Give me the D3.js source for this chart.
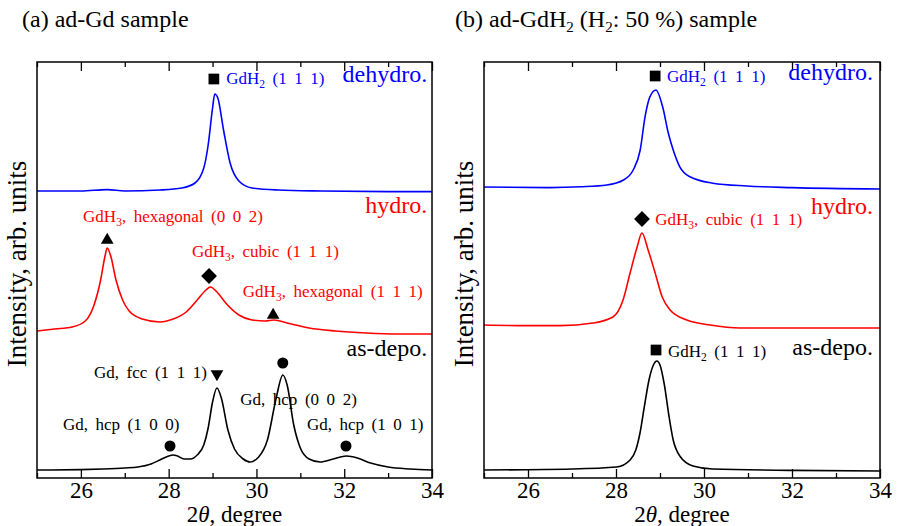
<!DOCTYPE html>
<html>
<head>
<meta charset="utf-8">
<script src="https://cdn.jsdelivr.net/npm/d3@7"></script>
<style>
  body { margin: 0; background: #fff; }
  svg { display: block; }
</style>
</head>
<body>
<svg id="chart" width="897" height="526"></svg>
<script>
// ---- data: [2theta (deg), intensity (arb. units, stacked)] ----
const majorTicks = [26, 28, 30, 32, 34]
const minorTicks = [25, 27, 29, 31, 33]

// (a) ad-Gd sample
const aDehydro = [[25.0,71.75],[26.0,71.75],[26.6,72.1],[27.0,71.75],[27.8,72],[28.3,72.5],[28.6,73.75],
  [28.8,77.5],[28.9,83.25],[29.0,92.5],[29.05,96],[29.12,95],[29.25,87],[29.4,78.75],[29.6,74.25],
  [29.9,72.5],[30.5,72],[31.5,71.75],[33.0,71.6],[34.0,71.6]]
const aHydro = [[25.0,36.75],[25.4,37.25],[25.8,37.75],[26.1,39.25],[26.3,43.25],[26.45,49.5],[26.55,55.5],
  [26.6,57.5],[26.68,55.5],[26.8,49.5],[26.95,44.5],[27.1,41.75],[27.4,39.75],[27.8,39],[28.1,39.75],
  [28.4,41.5],[28.65,44.5],[28.85,47],[28.95,47.75],[29.1,46.5],[29.3,43.75],[29.6,40.75],[29.9,39.5],
  [30.2,39.25],[30.4,39.5],[30.7,38.75],[31.2,37.5],[31.8,36.75],[32.5,36.25],[33.2,36],[34.0,36]]
const aAsDepo = [[25.0,2],[26.0,2.1],[26.5,2.25],[27.0,2.5],[27.3,2.75],[27.6,3.5],[27.8,4.5],[28.0,5.5],
  [28.1,5.75],[28.2,5.5],[28.35,4.75],[28.5,4.75],[28.65,5.75],[28.8,8.25],[28.9,12.5],[29.0,19],
  [29.1,22.5],[29.2,20],[29.35,12],[29.5,7.25],[29.7,4.75],[29.85,4],[30.05,5.25],[30.25,9.5],
  [30.45,20],[30.6,25.75],[30.7,23.25],[30.85,13.25],[31.0,7.5],[31.2,4.75],[31.45,4],[31.75,4.75],
  [32.05,5.5],[32.3,5],[32.6,3.75],[33.0,2.75],[33.5,2.25],[34.0,2]]

// (b) ad-GdH2 (H2: 50 %) sample
const bDehydro = [[25.0,72.75],[26.5,72.6],[27.2,72.8],[27.79,73.25],[28.17,74.5],[28.39,77],[28.55,82],
  [28.66,90.3],[28.77,95.3],[28.91,97],[29.06,92.8],[29.19,86.2],[29.3,82],[29.45,77.8],[29.68,75.3],
  [30.2,73.7],[30.97,73],[32.0,72.6],[34.0,72.25]]
const bHydro = [[25.0,38.25],[26.0,38.1],[26.73,38.1],[27.48,38.75],[27.93,40.25],[28.16,44.5],[28.32,51.25],
  [28.48,57.75],[28.59,61.25],[28.73,57],[28.89,51.25],[29.05,45.25],[29.23,42],[29.61,39.5],
  [30.14,38.25],[30.82,37.5],[32.0,37.5],[34.0,37.5]]
const bAsDepo = [[25.0,2],[27.0,2.25],[28.02,2.75],[28.32,4.5],[28.45,7],[28.55,11.5],[28.65,18.25],
  [28.75,24.5],[28.85,28.25],[28.93,29.25],[29.0,28.25],[29.1,23.25],[29.2,15.75],[29.3,9.5],[29.45,5.5],
  [29.75,3],[30.2,2.25],[32.0,1.9],[34.0,1.75]]

// peak markers: [2theta, intensity, shape]
const aMarkers = [[29.03,99.75,"square"],[26.6,59.5,"tri"],[28.92,50.5,"diamond"],[30.38,40.75,"tri"],
  [29.1,26,"triDown"],[30.6,28.75,"circle"],[28.03,8,"circle"],[32.04,8,"circle"]]
const bMarkers = [[28.89,100.5,"square"],[28.59,64.75,"diamond"],[28.91,32,"square"]]

const titles = ["(a) ad-Gd sample", "(b) ad-GdH_2 (H_2: 50 %) sample"]
const tagNames = ["dehydro.", "hydro.", "as-depo."]
const aPeakNames = ["GdH_2 (1 1 1)", "GdH_3, hexagonal (0 0 2)", "GdH_3, cubic (1 1 1)", "GdH_3, hexagonal (1 1 1)",
  "Gd, fcc (1 1 1)", "Gd, hcp (0 0 2)", "Gd, hcp (1 0 0)", "Gd, hcp (1 0 1)"]
const bPeakNames = ["GdH_2 (1 1 1)", "GdH_3, cubic (1 1 1)", "GdH_2 (1 1 1)"]

// ---- layout ----
const FONT = "Liberation Serif"
const BLUE = "#0000ff", RED = "#ff0000", BLACK = "#000"
const plotTop = 62, plotBottom = 478
const colors = [BLUE, RED, BLACK]

const panels = [
  { left: 37, right: 432, title: titles[0], titleX: 22,
    series: [aDehydro, aHydro, aAsDepo], markers: aMarkers,
    tagPos: [[33.89, 99], [33.89, 66.25], [33.89, 30.5]],
    peakLabels: [
      [aPeakNames[0], 29.31, 98.5, BLUE], [aPeakNames[1], 26.05, 64, RED], [aPeakNames[2], 28.53, 55.25, RED],
      [aPeakNames[3], 29.69, 45.25, RED], [aPeakNames[4], 26.3, 25, BLACK], [aPeakNames[5], 29.63, 18.25, BLACK],
      [aPeakNames[6], 25.59, 12, BLACK], [aPeakNames[7], 31.15, 12, BLACK]] },
  { left: 484, right: 880, title: titles[1], titleX: 455,
    series: [bDehydro, bHydro, bAsDepo], markers: bMarkers,
    tagPos: [[33.84, 99.5], [33.84, 66], [33.84, 30.75]],
    peakLabels: [
      [bPeakNames[0], 29.16, 99, BLUE], [bPeakNames[1], 28.89, 63.25, RED], [bPeakNames[2], 29.18, 30.25, BLACK]] }
]

const svg = d3.select("#chart")

// text with "_d" meaning subscript digit
function richText(sel, str, subSize) {
  const parts = str.split(/_(\d)/)
  let down = false
  parts.forEach((p, i) => {
    if (i % 2 === 1) {
      sel.append("tspan").attr("font-size", subSize).attr("dy", subSize * 0.35).text(p)
      down = true
    } else if (p) {
      const t = sel.append("tspan").text(p)
      if (down) { t.attr("dy", -subSize * 0.35); down = false }
    }
  })
  return sel
}

const symbolFor = {
  square: d3.symbol(d3.symbolSquare, 115),
  circle: d3.symbol(d3.symbolCircle, 95),
  tri: d3.symbol(d3.symbolTriangle, 70),
  triDown: d3.symbol(d3.symbolTriangle, 70),
  diamond: d3.symbol(d3.symbolSquare, 125)
}
const rotFor = { triDown: 180, diamond: 45 }

panels.forEach(p => {
  const x = d3.scaleLinear().domain([25, 34]).range([p.left, p.right])
  const y = d3.scaleLinear().domain([0, 104]).range([plotBottom, plotTop])
  const g = svg.append("g")

  // title
  richText(g.append("text").attr("x", p.titleX).attr("y", 27).attr("font-size", 24), p.title, 15)

  // y label
  g.append("text")
    .attr("transform", `translate(${p.left - 11},${(plotTop + plotBottom) / 2 - 6}) rotate(-90)`)
    .attr("text-anchor", "middle").attr("font-size", 27)
    .text("Intensity, arb. units")

  // curves
  const line = d3.line().x(d => x(d[0])).y(d => y(d[1])).curve(d3.curveMonotoneX)
  p.series.forEach((s, i) => {
    g.append("path").datum(s).attr("d", line)
      .attr("fill", "none").attr("stroke", colors[i]).attr("stroke-width", 1.6)
  })

  // axes: major + minor, ticks inward on top and bottom
  const bAx = g.append("g").attr("transform", `translate(0,${plotBottom})`)
    .call(d3.axisBottom(x).tickValues(majorTicks).tickFormat(d3.format("d")).tickSizeInner(-9).tickSizeOuter(0))
  bAx.selectAll("text").attr("y", 20).attr("dy", 0).attr("fill", "#000").attr("font-size", 23)
  g.append("g").attr("transform", `translate(0,${plotBottom})`)
    .call(d3.axisBottom(x).tickValues(minorTicks).tickFormat("").tickSizeInner(-5).tickSizeOuter(0))
  g.append("g").attr("transform", `translate(0,${plotTop})`)
    .call(d3.axisTop(x).tickValues(majorTicks).tickFormat("").tickSizeInner(-9).tickSizeOuter(0))
  g.append("g").attr("transform", `translate(0,${plotTop})`)
    .call(d3.axisTop(x).tickValues(minorTicks).tickFormat("").tickSizeInner(-5).tickSizeOuter(0))
  g.selectAll(".domain").remove()
  g.selectAll(".tick line").attr("stroke", "#000").attr("stroke-width", 1.3)

  // frame
  g.append("rect").attr("x", p.left).attr("y", plotTop)
    .attr("width", p.right - p.left).attr("height", plotBottom - plotTop)
    .attr("fill", "none").attr("stroke", "#000").attr("stroke-width", 1.5)

  // x label
  const xl = g.append("text").attr("x", (p.left + p.right) / 2).attr("y", 522)
    .attr("text-anchor", "middle").attr("font-size", 23)
  xl.append("tspan").text("2")
  xl.append("tspan").attr("font-style", "italic").text("θ")
  xl.append("tspan").text(", degree")

  // markers
  g.selectAll("path.mk").data(p.markers).enter().append("path").attr("class", "mk")
    .attr("d", d => symbolFor[d[2]]())
    .attr("transform", d => `translate(${x(d[0])},${y(d[1])}) rotate(${rotFor[d[2]] || 0})`)
    .attr("fill", "#000")

  // tags
  p.tagPos.forEach((t, i) => {
    g.append("text").attr("x", x(t[0])).attr("y", y(t[1]))
      .attr("text-anchor", "end").attr("font-size", 24).attr("fill", colors[i])
      .text(tagNames[i])
  })

  // peak labels
  p.peakLabels.forEach(l => {
    const t = g.append("text").attr("x", x(l[1])).attr("y", y(l[2]))
      .attr("font-size", 17).attr("word-spacing", 3.3).attr("fill", l[3])
    richText(t, l[0], 11.5)
  })
})

// serif everywhere (axis groups default to sans-serif)
svg.selectAll("text").attr("font-family", FONT)
</script>
</body>
</html>
